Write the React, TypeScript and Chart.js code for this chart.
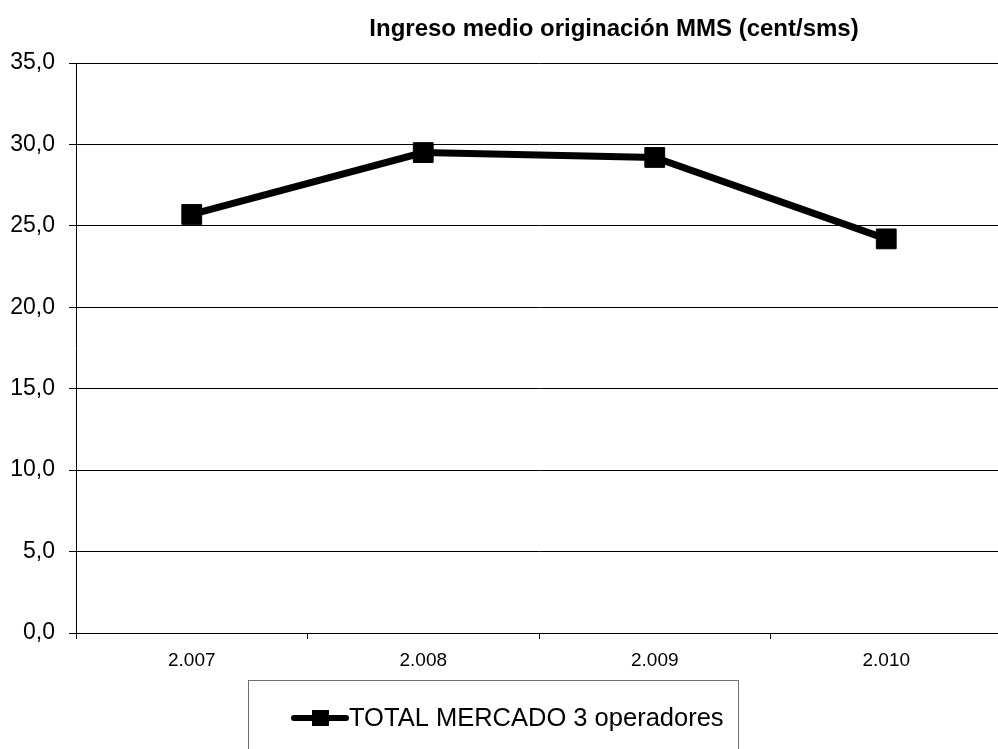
import React, { useEffect, useRef } from "react";
import { Chart, registerables } from "chart.js";

Chart.register(...registerables);

const TITLE = "Ingreso medio originación MMS (cent/sms)";
const categories = ["2.007", "2.008", "2.009", "2.010"];
const seriesLabel = "TOTAL MERCADO 3 operadores";
const seriesValues = [25.7, 29.5, 29.2, 24.2];
const yMin = 0;
const yMax = 35;
const yStep = 5;

const FONT = "'Liberation Sans', Arial, sans-serif";

const titlePlugin = {
  id: "customTitle",
  afterDraw(chart: any) {
    const ctx = chart.ctx;
    ctx.save();
    ctx.fillStyle = "#000";
    ctx.font = `bold 24px ${FONT}`;
    ctx.textAlign = "center";
    ctx.textBaseline = "middle";
    ctx.fillText(TITLE, 614, 29);
    ctx.restore();
  },
};

const legendPlugin = {
  id: "boxLegend",
  afterDraw(chart: any) {
    const ctx = chart.ctx;
    const ds = chart.data.datasets[0];
    ctx.save();
    ctx.strokeStyle = "#707070";
    ctx.lineWidth = 1;
    ctx.strokeRect(248.5, 680.5, 490, 100);
    const cy = 718;
    ctx.strokeStyle = "#000";
    ctx.lineWidth = 6;
    ctx.lineCap = "round";
    ctx.beginPath();
    ctx.moveTo(294, cy);
    ctx.lineTo(346, cy);
    ctx.stroke();
    ctx.fillStyle = "#000";
    ctx.fillRect(312, cy - 8, 17, 16);
    ctx.font = `25.5px ${FONT}`;
    ctx.textAlign = "left";
    ctx.textBaseline = "middle";
    ctx.fillText(ds.label, 349, cy + 1);
    ctx.restore();
  },
};

export default function App() {
  const ref = useRef<HTMLCanvasElement>(null);
  useEffect(() => {
    if (!ref.current) return;
    const chart = new Chart(ref.current, {
      type: "line",
      data: {
        labels: categories,
        datasets: [
          {
            label: seriesLabel,
            data: seriesValues,
            borderColor: "#000",
            backgroundColor: "#000",
            borderWidth: 7,
            pointStyle: "rect",
            pointRadius: 14,
            pointBorderWidth: 1,
            pointBackgroundColor: "#000",
            pointBorderColor: "#000",
            tension: 0,
          },
        ],
      },
      options: {
        animation: false,
        responsive: false,
        devicePixelRatio: 1,
        layout: { autoPadding: false, padding: { top: 63, left: 0, right: 0, bottom: 0 } },
        plugins: {
          legend: { display: false },
          title: { display: false },
          tooltip: { enabled: false },
        },
        scales: {
          x: {
            type: "category",
            offset: true,
            afterFit(scale: any) {
              scale.height = 116;
            },
            grid: {
              offset: true,
              drawOnChartArea: false,
              drawTicks: true,
              tickLength: 6,
              color: "#000",
            },
            border: { display: true, color: "#000", width: 1 },
            ticks: {
              color: "#000",
              font: { family: FONT, size: 19 },
              padding: 10,
              maxRotation: 0,
            },
          },
          y: {
            min: yMin,
            max: yMax,
            afterFit(scale: any) {
              scale.width = 76;
            },
            grid: {
              color: "#000",
              lineWidth: 1,
              drawTicks: true,
              tickLength: 7,
            },
            border: { display: true, color: "#000", width: 1 },
            ticks: {
              stepSize: yStep,
              color: "#000",
              padding: 14,
              font: { family: FONT, size: 23 },
              callback: (v: any) => Number(v).toFixed(1).replace(".", ","),
            },
          },
        },
      },
      plugins: [titlePlugin, legendPlugin],
    });
    return () => chart.destroy();
  }, []);
  return (
    <div
      style={{
        position: "fixed",
        left: 0,
        top: 0,
        width: 998,
        height: 749,
        overflow: "hidden",
        background: "#fff",
      }}
    >
      <canvas ref={ref} width={1002} height={749} style={{ width: 1002, height: 749, display: "block" }} />
    </div>
  );
}
